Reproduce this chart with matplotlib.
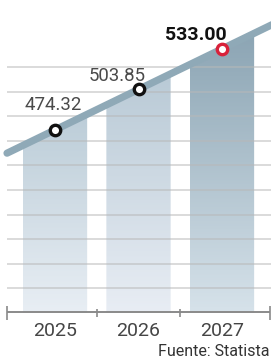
import numpy as np
import matplotlib
matplotlib.use("Agg")
import matplotlib.pyplot as plt
from matplotlib.colors import LinearSegmentedColormap

# data
years = ["2025", "2026", "2027"]
values = [474.32, 503.85, 533.00]
labels = ["474.32", "503.85", "533.00"]
source = "Fuente: Statista"

# colours (top, bottom) of each column gradient
bar_top = ["#bccdd8", "#b9cad6", "#8ca5b4"]
bar_bottom = ["#e8eef4", "#e8edf4", "#d6e2ea"]
label_offsets = [(-2, 25), (-21, 13), (-26, 14)]  # pixels from marker

plt.rcParams['font.family'] = ['Roboto', 'DejaVu Sans']

fig = plt.figure(figsize=(2.71, 3.6), dpi=100)
ax = fig.add_axes([0, 47 / 360, 1, 313 / 360])

x = np.arange(len(years))
ybot, ytop = 341.7, 568.5
ax.set_xlim(-0.659, 2.587)
ax.set_ylim(ybot, ytop)
ax.axis('off')

# trend line through the three points
k, b = np.polyfit(x, values, 1)
xl = np.array([-0.575, 2.6])

# gridlines
grid = ybot + 17.83 * np.arange(1, 11)

# gradient columns clipped under the trend line
width = 0.77
for i in x:
    x0, x1 = i - width / 2, i + width / 2
    poly = ax.fill_between([x0, x1], ybot, [k * x0 + b - 1.5, k * x1 + b - 1.5],
                           color='none', lw=0)
    cmap = LinearSegmentedColormap.from_list('g', [bar_bottom[i], bar_top[i]])
    grad = np.linspace(0, 1, 100).reshape(-1, 1)
    im = ax.imshow(grad, cmap=cmap, aspect='auto', origin='lower',
                   extent=[x0, x1, ybot, k * x1 + b], zorder=1)
    im.set_clip_path(poly.get_paths()[0], transform=ax.transData)

ax.hlines(grid, -0.57, 2.6, color='#b8b8b8', lw=1.2, alpha=0.6, zorder=2)

# bottom axis with ticks between categories
ax.hlines(ybot + 0.5, -0.575, 2.57, color='#8a8a8a', lw=1.4, zorder=3,
          clip_on=False)
for xt, h in zip([-0.575, 0.5, 1.5, 2.57], [5, 3, 3, 5]):
    ax.vlines(xt, ybot - h, ybot + h, color='#8a8a8a', lw=1.2, zorder=3,
              clip_on=False)

ax.plot(xl, k * xl + b, color='#8fa9b7', lw=5.2, solid_capstyle='round', zorder=4)

for i in x:
    ec = '#d8213a' if i == 2 else '#111111'
    ax.plot(i, values[i], marker='o', ms=7.5, mfc='white', mec=ec, mew=2.4,
            zorder=5)
    dx, dy = label_offsets[i]
    bold = i == 2
    ax.annotate(labels[i], (i, values[i]), xytext=(dx * 0.72, dy * 0.72),
                textcoords='offset points', ha='center', va='center',
                fontsize=14 if bold else 13.4,
                fontweight='bold' if bold else 'normal',
                color='#111111' if bold else '#4a4a4a', zorder=6)

for i in x:
    fig.text((55 + 83.5 * i) / 271, 1 - 331 / 360, years[i], ha='center',
             va='center', fontsize=14, color='#454545')

fig.text(270 / 271, 1 / 360, source, ha='right', va='bottom',
         fontsize=11.5, color='#333333')

fig.savefig("out.png", dpi=100)
